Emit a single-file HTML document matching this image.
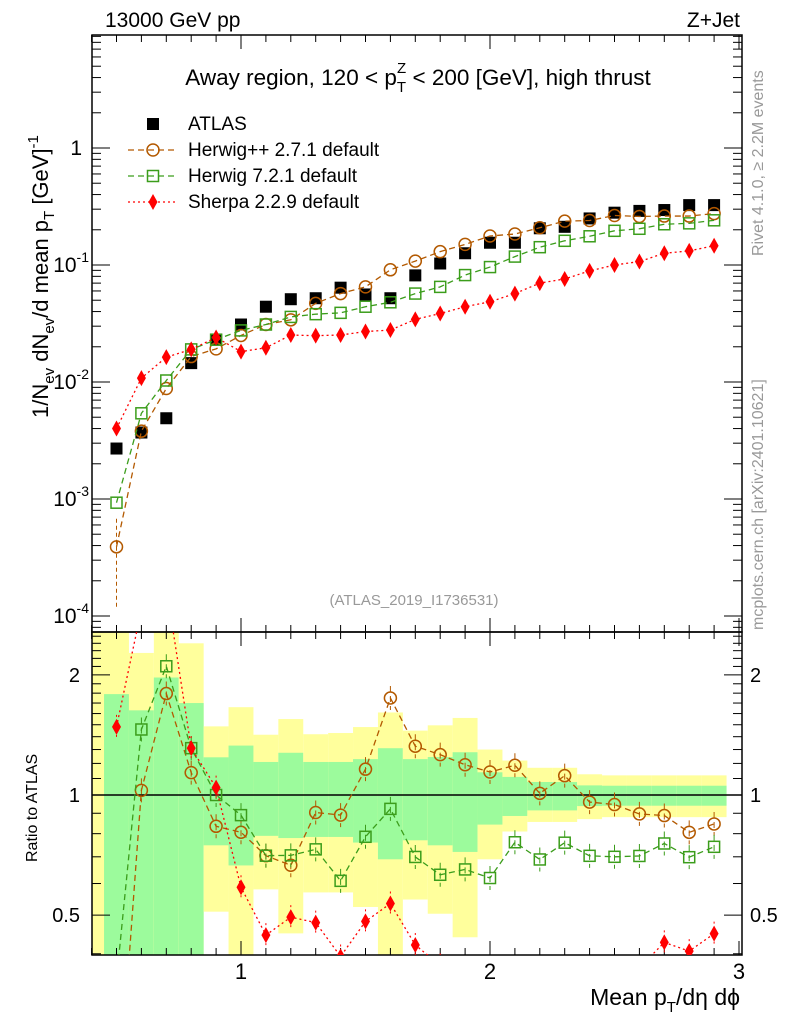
<!DOCTYPE html>
<html><head><meta charset="utf-8"><style>
html,body{margin:0;padding:0;background:#fff;overflow:hidden;width:786px;height:1024px}
svg{display:block;font-family:"Liberation Sans",sans-serif}
</style></head><body>
<svg id="c" width="786" height="1024" viewBox="0 0 786 1024">
<g id="bands"></g>
<g id="axes"></g>
<g id="series"></g>
<text x="105" y="27" font-size="21">13000 GeV pp</text>
<text x="740" y="27" font-size="21" text-anchor="end">Z+Jet</text>
<text x="418" y="85" font-size="22.5" text-anchor="middle">Away region, 120 &lt; p<tspan font-size="15" dy="7">T</tspan><tspan font-size="15" dx="-9" dy="-19">Z</tspan><tspan dy="12"> &lt; 200 [GeV], high thrust</tspan></text>
<text x="414" y="605" font-size="15" fill="#999" text-anchor="middle">(ATLAS_2019_I1736531)</text>
<text transform="translate(763,256) rotate(-90)" font-size="16" fill="#999">Rivet 4.1.0, ≥ 2.2M events</text>
<text transform="translate(763,630) rotate(-90)" font-size="16" fill="#999">mcplots.cern.ch [arXiv:2401.10621]</text>
<text transform="translate(48,418) rotate(-90)" font-size="22">1/N<tspan font-size="15" dy="6">ev</tspan><tspan dy="-6"> dN</tspan><tspan font-size="15" dy="6">ev</tspan><tspan dy="-6">/d mean p</tspan><tspan font-size="15" dy="6">T</tspan><tspan dy="-6">  [GeV]</tspan><tspan font-size="15" dy="-10">-1</tspan></text>
<text transform="translate(37,862) rotate(-90)" font-size="16">Ratio to ATLAS</text>
<text x="740" y="1005" font-size="23" text-anchor="end">Mean p<tspan font-size="15" dy="7">T</tspan><tspan dy="-7">/dη dϕ</tspan></text>
<g id="legend"></g>
</svg>
<script>
const xCenters=[0.5,0.6,0.7,0.8,0.9,1.0,1.1,1.2,1.3,1.4,1.5,1.6,1.7,1.8,1.9,2.0,2.1,2.2,2.3,2.4,2.5,2.6,2.7,2.8,2.9];
const atlasVals=[2.7e-3,3.7e-3,4.9e-3,1.45e-2,2.3e-2,3.1e-2,4.4e-2,5.1e-2,5.2e-2,6.4e-2,5.6e-2,5.2e-2,8.15e-2,0.103,0.126,0.155,0.155,0.206,0.212,0.25,0.28,0.29,0.295,0.325,0.325];
const herwigppVals=[3.9e-4,3.8e-3,8.8e-3,1.65e-2,1.92e-2,2.5e-2,3.1e-2,3.4e-2,4.7e-2,5.7e-2,6.5e-2,9.1e-2,0.108,0.13,0.15,0.177,0.184,0.208,0.237,0.24,0.265,0.26,0.262,0.262,0.275];
const herwig7Vals=[9.3e-4,5.4e-3,1.03e-2,1.9e-2,2.3e-2,2.76e-2,3.1e-2,3.6e-2,3.8e-2,3.9e-2,4.4e-2,4.8e-2,5.7e-2,6.5e-2,8.2e-2,9.6e-2,0.118,0.142,0.161,0.176,0.196,0.204,0.223,0.227,0.241];
const sherpaVals=[4.0e-3,1.08e-2,1.63e-2,1.9e-2,2.4e-2,1.82e-2,1.96e-2,2.52e-2,2.49e-2,2.52e-2,2.7e-2,2.78e-2,3.43e-2,3.85e-2,4.4e-2,4.85e-2,5.7e-2,7.0e-2,7.6e-2,8.9e-2,0.1,0.107,0.126,0.132,0.146];
const yellowUp=[3,2.27,3,2.4,1.486,1.66,1.416,1.55,1.42,1.43,1.48,1.61,1.45,1.495,1.56,1.30,1.22,1.17,1.17,1.127,1.12,1.12,1.12,1.12,1.12];
const yellowLo=[0.3,0.3,0.3,0.3,0.51,0.3,0.58,0.45,0.57,0.57,0.524,0.3,0.547,0.504,0.44,0.69,0.81,0.856,0.856,0.87,0.88,0.88,0.88,0.88,0.88];
const greenUp=[1.79,1.63,1.97,1.70,1.243,1.33,1.21,1.276,1.21,1.21,1.23,1.31,1.23,1.245,1.28,1.14,1.11,1.078,1.078,1.057,1.055,1.055,1.055,1.055,1.055];
const greenLo=[0.3,0.3,0.3,0.3,0.748,0.666,0.79,0.78,0.785,0.785,0.76,0.69,0.77,0.748,0.72,0.843,0.886,0.915,0.915,0.938,0.94,0.94,0.94,0.94,0.94];
const mainTicks=[{v:1e-4,l:"10",e:"-4"},{v:1e-3,l:"10",e:"-3"},{v:1e-2,l:"10",e:"-2"},{v:1e-1,l:"10",e:"-1"},{v:1,l:"1",e:""}];
const ratioTicks=[0.5,1,2];
const xTicks=[1,2,3];

const NS="http://www.w3.org/2000/svg";
const L=92,R=742,T=35,MB=632,RB=955;
const X=v=>241+(v-1)*249;
const Y=v=>148-Math.log10(v)*117;
const YR=v=>795-Math.log10(v)*399;
function mk(tag,at,parent){const e=document.createElementNS(NS,tag);for(const k in at)e.setAttribute(k,at[k]);parent.appendChild(e);return e;}
const axes=document.getElementById('axes'),bands=document.getElementById('bands'),series=document.getElementById('series'),legend=document.getElementById('legend');

xCenters.forEach((x,i)=>{
  const x0=X(i===0?0.4:x-0.05),x1=X(x+0.05);
  const yb=mk('rect',{x:x0,y:Math.max(YR(yellowUp[i]),MB),width:x1-x0,height:Math.min(YR(yellowLo[i]),RB)-Math.max(YR(yellowUp[i]),MB),fill:'#ffff9c'},bands);
  
  
  const gb=mk('rect',{x:X(x-0.05),y:Math.max(YR(greenUp[i]),MB),width:X(x+0.05)-X(x-0.05),height:Math.min(YR(greenLo[i]),RB)-Math.max(YR(greenUp[i]),MB),fill:'#9cfb9c'},bands);
  
  
});

mk('rect',{x:L,y:T,width:R-L,height:MB-T,fill:'none',stroke:'#000','stroke-width':1.5},axes);
mk('rect',{x:L,y:MB,width:R-L,height:RB-MB,fill:'none',stroke:'#000','stroke-width':1.5},axes);
mk('line',{x1:L,x2:R,y1:YR(1),y2:YR(1),stroke:'#000','stroke-width':1.5},axes);
for(let k=4;k<=30;k++){const v=k/10,x=X(v),maj=(k%10===0),len=maj?14:7;
  [[T,1],[MB,-1],[MB,1],[RB,-1]].forEach(([y,d])=>mk('line',{x1:x,x2:x,y1:y,y2:y+d*len,stroke:'#000'},axes));}
xTicks.forEach(v=>{const t=mk('text',{x:X(v),y:979,'font-size':22,'text-anchor':'middle'},axes);t.textContent=v;
  
  });
for(let d=-5;d<=0;d++){for(let m=1;m<=9;m++){const v=m*Math.pow(10,d),y=Y(v);if(y<T||y>MB)continue;const len=m===1?18:9;
  mk('line',{x1:L,x2:L+len,y1:y,y2:y,stroke:'#000'},axes);mk('line',{x1:R,x2:R-len,y1:y,y2:y,stroke:'#000'},axes);}}
mainTicks.forEach(t=>{const e=mk('text',{x:82,y:Y(t.v)+7,'font-size':21,'text-anchor':'end'},axes);
  
  
  if(t.e){e.textContent=t.l;const s=mk('tspan',{'font-size':14,dy:-10},e);s.textContent=t.e;e.setAttribute('x',89);}else e.textContent=t.l;});
[0.4,0.5,0.6,0.7,0.8,0.9,1,1.1,1.2,1.3,1.4,1.5,1.6,1.7,1.8,1.9,2,2.1,2.2,2.3,2.4,2.5].forEach(v=>{const y=YR(v);if(y<MB||y>RB)return;const len=(v===0.5||v===1||v===2)?18:9;
  mk('line',{x1:L,x2:L+len,y1:y,y2:y,stroke:'#000'},axes);mk('line',{x1:R,x2:R-len,y1:y,y2:y,stroke:'#000'},axes);});
ratioTicks.forEach(v=>{[[80,'end'],[750,'start']].forEach(([x,a])=>{const e=mk('text',{x:x,y:YR(v)+7,'font-size':20,'text-anchor':a},axes);e.textContent=v;
  
  });});

function marker(kind,x,y,g,col){
  if(kind==='sq')return mk('rect',{x:x-6,y:y-6,width:12,height:12,fill:'#000'},g);
  if(kind==='circ')return mk('circle',{cx:x,cy:y,r:6,fill:'none',stroke:col,'stroke-width':1.5},g);
  if(kind==='osq')return mk('rect',{x:x-5.5,y:y-5.5,width:11,height:11,fill:'none',stroke:col,'stroke-width':1.5},g);
  return mk('polygon',{points:`${x},${y-8} ${x+4.5},${y} ${x},${y+8} ${x-4.5},${y}`,fill:col},g);
}
const mc=[
 {name:'herwigpp',vals:herwigppVals,col:'#b35900',kind:'circ',dash:'6,4',label:'Herwig++ 2.7.1 default'},
 {name:'herwig7',vals:herwig7Vals,col:'#3b9d1b',kind:'osq',dash:'6,4',label:'Herwig 7.2.1 default'},
 {name:'sherpa',vals:sherpaVals,col:'#ff0000',kind:'dia',dash:'2,3',label:'Sherpa 2.2.9 default'}];
const defs=mk('defs',{},series);
const cp=mk('clipPath',{id:'rc'},defs);mk('rect',{x:L,y:MB,width:R-L,height:RB-MB},cp);
const cm=mk('clipPath',{id:'mc'},defs);mk('rect',{x:L,y:T,width:R-L,height:MB-T},cm);
const ga=mk('g',{'clip-path':'url(#mc)'},series);


xCenters.forEach((x,i)=>{const m=marker('sq',X(x),Y(atlasVals[i]),ga);
  
  });
mc.forEach(s=>{
  const gm=mk('g',{'clip-path':'url(#mc)'},series);
  
  
  mk('polyline',{points:xCenters.map((x,i)=>X(x)+','+Y(s.vals[i])).join(' '),fill:'none',stroke:s.col,'stroke-width':1.3,'stroke-dasharray':s.dash},gm);
  xCenters.forEach((x,i)=>{const m=marker(s.kind,X(x),Y(s.vals[i]),gm,s.col);
    
    });
  const gr=mk('g',{'clip-path':'url(#rc)'},series);
  
  
  mk('polyline',{points:xCenters.map((x,i)=>X(x)+','+YR(s.vals[i]/atlasVals[i])).join(' '),fill:'none',stroke:s.col,'stroke-width':1.3,'stroke-dasharray':s.dash},gr);
  xCenters.forEach((x,i)=>{const yy=YR(s.vals[i]/atlasVals[i]);
    mk('line',{x1:X(x),x2:X(x),y1:yy-12,y2:yy+12,stroke:s.col,'stroke-width':1,'stroke-dasharray':s.dash},gr);
    const m=marker(s.kind,X(x),yy,gr,s.col);
    
    });
});
mk('line',{x1:X(0.5),x2:X(0.5),y1:Y(1.2e-4),y2:Y(7e-4),stroke:'#b35900','stroke-dasharray':'4,3'},series);
const ly=[124,150,176,202];
marker('sq',153,ly[0],legend);
const lt0=mk('text',{x:188,y:ly[0]+6,'font-size':19},legend);lt0.textContent='ATLAS';


mc.forEach((s,i)=>{const y=ly[i+1];
  mk('line',{x1:128,x2:176,y1:y,y2:y,stroke:s.col,'stroke-width':1.3,'stroke-dasharray':s.dash},legend);
  marker(s.kind,153,y,legend,s.col);
  const t=mk('text',{x:188,y:y+6,'font-size':19},legend);t.textContent=s.label;
  
  });
</script>
</body></html>
